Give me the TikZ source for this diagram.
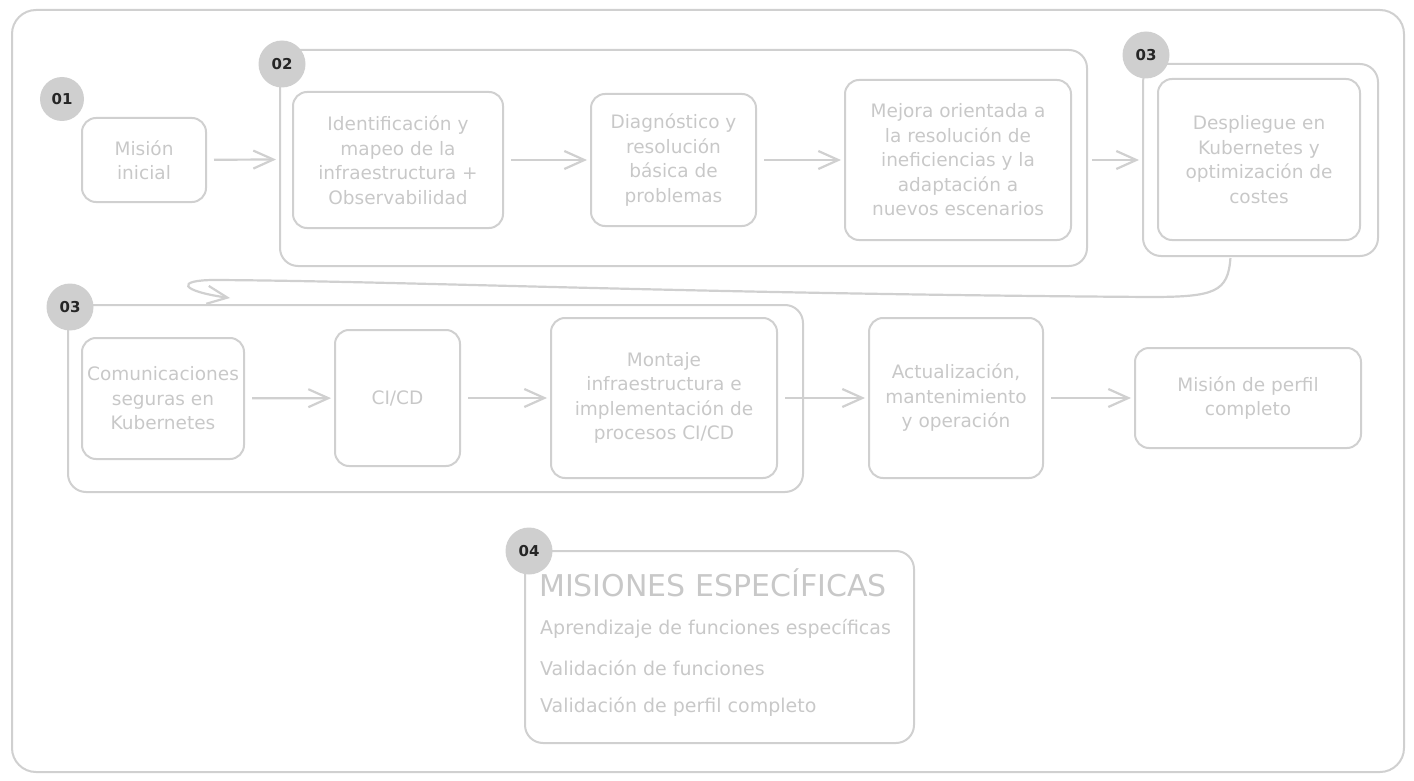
\documentclass[tikz,border=0pt]{standalone}
\usepackage{fontspec}
\setmainfont{DejaVu Sans}
\usetikzlibrary{arrows.meta}
\definecolor{edgegray}{RGB}{208,208,208}
\definecolor{textgray}{RGB}{200,200,200}
\definecolor{dotgray}{RGB}{207,207,207}

\begin{document}
\begin{tikzpicture}[x=1pt,y=-1pt,
		>={Straight Barb[length=20pt,width=18pt]},
		mission/.style={draw=edgegray, line width=2pt, rounded corners=14pt, text=textgray, align=center, inner sep=4pt, font=\fontsize{18.5}{24.5}\selectfont},
		group/.style={draw=edgegray, line width=2pt, rounded corners=18pt},
		badge/.style={circle, fill=dotgray, minimum size=47pt, inner sep=0pt, text=black!85, font=\fontsize{15}{15}\selectfont\bfseries},
		specline/.style={anchor=west, inner sep=0pt, text=textgray, font=\fontsize{19}{21}\selectfont},
		flow/.style={->, draw=edgegray, line width=2.2pt, shorten >=3pt, shorten <=7pt}]
		\useasboundingbox (0,0) rectangle (1414,781);
		\draw[group, rounded corners=24pt] (12,10) rectangle (1404,772);

		\node[mission, minimum width=124pt, minimum height=84pt] (start) at (144,160) {Misión\\inicial};
		\node[group, minimum width=807pt, minimum height=216pt] (grp2) at (683.5,158) {};
		\node[mission, minimum width=210pt, minimum height=136pt] (ident) at (398,160) {Identificación y\\mapeo de la\\infraestructura +\\Observabilidad};
		\node[mission, minimum width=165pt, minimum height=132pt] (diag) at (673.5,160) {Diagnóstico y\\resolución\\básica de\\problemas};
		\node[mission, minimum width=226pt, minimum height=160pt] (mejora) at (958,160) {Mejora orientada a\\la resolución de\\ineficiencias y la\\adaptación a\\nuevos escenarios};
		\node[group, minimum width=235pt, minimum height=192pt] (grp3a) at (1260.5,160) {};
		\node[mission, minimum width=202pt, minimum height=161pt] (despl) at (1259,159.5) {Despliegue en\\Kubernetes y\\optimización de\\costes};

		\node[group, minimum width=735pt, minimum height=187pt] (grp3b) at (435.5,398.5) {};
		\node[mission, minimum width=162pt, minimum height=121pt] (comms) at (163,398.5) {Comunicaciones\\seguras en\\Kubernetes};
		\node[mission, minimum width=125pt, minimum height=136pt] (cicd) at (397.5,398) {CI/CD};
		\node[mission, minimum width=226pt, minimum height=160pt] (montaje) at (664,398) {Montaje\\infraestructura e\\implementación de\\procesos CI/CD};
		\node[mission, minimum width=174pt, minimum height=160pt] (update) at (956,398) {Actualización,\\mantenimiento\\y operación};
		\node[mission, minimum width=226pt, minimum height=100pt] (perfil) at (1248,398) {Misión de perfil\\completo};

		\node[group, minimum width=389pt, minimum height=192pt] (spec) at (719.5,647) {};
		\node[specline, font=\fontsize{30}{32}\selectfont] (spectitle) at (539,583) {MISIONES ESPECÍFICAS};
		\node[specline] (specone) at (540,629) {Aprendizaje de funciones específicas};
		\node[specline] (spectwo) at (540,668) {Validación de funciones};
		\node[specline] (specthree) at (540,707) {Validación de perfil completo};

		\node[badge, minimum size=44pt] (b01) at (62,99) {01};
		\node[badge] (b02) at (282,64) {02};
		\node[badge] (b03a) at (1146,55) {03};
		\node[badge] (b03b) at (70,307) {03};
		\node[badge] (b04) at (529,551) {04};

		\draw[flow] (start) -- (grp2);
		\draw[flow] (ident) -- (diag);
		\draw[flow] (diag) -- (mejora);
		\draw[flow, shorten <=20pt] (mejora) -- (grp3a);
		\draw[flow] (comms) -- (cicd);
		\draw[flow] (cicd) -- (montaje);
		\draw[flow] (montaje) -- (update);
		\draw[flow] (update) -- (perfil);

		\coordinate (loopend) at (230,298);
		\draw[flow, shorten <=1pt, shorten >=0pt] ([xshift=-30pt]grp3a.south) .. controls (1228,292) and (1215,297) .. (1150,297) .. controls (700,294) and (400,281) .. (215,280) .. controls (175,280) and (180,291) .. (loopend);
	\end{tikzpicture}
\end{document}
